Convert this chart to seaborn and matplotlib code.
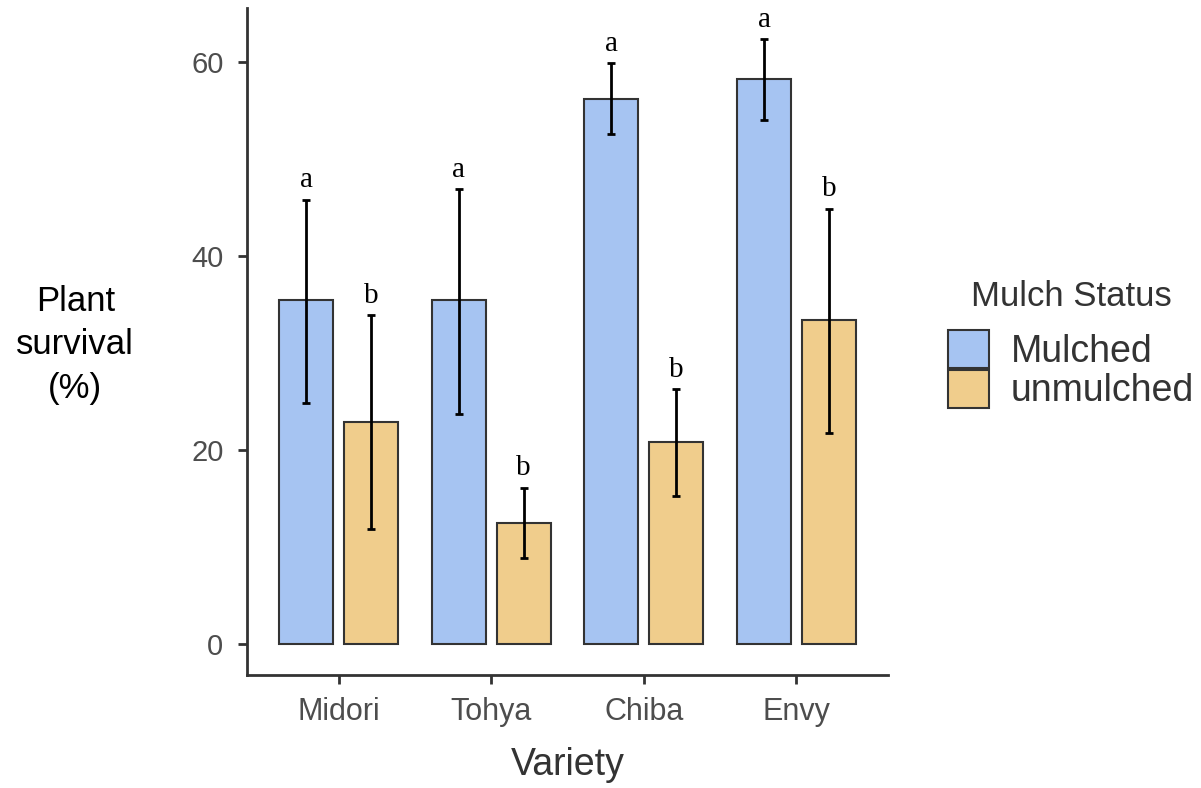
import pandas as pd
import matplotlib.pyplot as plt
import seaborn as sns
import numpy as np

# survival data
varieties = ["Midori", "Tohya", "Chiba", "Envy"]
statuses = ["Mulched", "unmulched"]
mulched_mean = [35.5, 35.5, 56.2, 58.3]
mulched_low = [24.9, 23.7, 52.6, 54.1]
mulched_high = [45.8, 46.9, 59.9, 62.4]
unmulched_mean = [22.9, 12.5, 20.8, 33.4]
unmulched_low = [11.9, 8.9, 15.3, 21.8]
unmulched_high = [33.9, 16.1, 26.3, 44.9]
mulched_letters = ["a", "a", "a", "a"]
unmulched_letters = ["b", "b", "b", "b"]

df = pd.DataFrame({
    "Variety": varieties * 2,
    "Mulch Status": [statuses[0]] * 4 + [statuses[1]] * 4,
    "survival": mulched_mean + unmulched_mean,
    "low": mulched_low + unmulched_low,
    "high": mulched_high + unmulched_high,
    "letter": mulched_letters + unmulched_letters,
})

sns.set_style("white")
plt.rcParams["font.family"] = ["Liberation Sans", "DejaVu Sans"]

fig = plt.figure(figsize=(12.01, 7.88), dpi=100)
ax = fig.add_axes([0.2057, 0.1434, 0.5337, 0.8464])

palette = {"Mulched": "#a6c4f2", "unmulched": "#f0cd8c"}
sns.barplot(data=df, x="Variety", y="survival", hue="Mulch Status",
            order=varieties, hue_order=statuses, palette=palette,
            width=0.85, gap=0.167, errorbar=None, edgecolor="#333333",
            linewidth=1.5, saturation=1, ax=ax)

# error bars + letters, positioned on the drawn bars
for container, status in zip(ax.containers, statuses):
    sub = df[df["Mulch Status"] == status].set_index("Variety").loc[varieties]
    for bar, (_, row) in zip(container, sub.iterrows()):
        xc = bar.get_x() + bar.get_width() / 2
        ax.errorbar(xc, row["survival"],
                    yerr=[[row["survival"] - row["low"]], [row["high"] - row["survival"]]],
                    fmt="none", ecolor="black", elinewidth=2, capsize=3, capthick=2)
        ax.annotate(row["letter"], (xc, row["high"]), xytext=(0, 9),
                    textcoords="offset points", ha="center", va="baseline",
                    fontsize=21, family="Liberation Serif", color="black")

ax.set_xlim(-0.6, 3.6)
ax.set_ylim(-3.2, 65.6)
ax.set_yticks([0, 20, 40, 60])
sns.despine(ax=ax)
for s in ["left", "bottom"]:
    ax.spines[s].set_linewidth(2)
    ax.spines[s].set_color("#333333")
ax.tick_params(axis="both", bottom=True, left=True, length=6.5, width=2,
               color="#333333", labelsize=22, labelcolor="#4d4d4d")
ax.tick_params(axis="y", pad=10.5, labelsize=21)
ax.tick_params(axis="x", pad=9)

ax.set_xlabel("Variety", fontsize=27, color="#333333", labelpad=15)
ax.set_ylabel("Plant\nsurvival\n(%)", fontsize=25, color="black", rotation=0,
              ha="center", va="center", linespacing=1.4)
ax.yaxis.set_label_coords(-0.268, 0.495)

handles, labels = ax.get_legend_handles_labels()
leg = ax.legend(handles, labels, title="Mulch Status", loc="center left",
                bbox_to_anchor=(1.065, 0.495), frameon=False, fontsize=27,
                title_fontsize=25, handlelength=1.07, handleheight=1.18,
                labelspacing=0.0, handletextpad=0.6, borderpad=0)
leg._legend_box.sep = 12
for t in leg.get_texts():
    t.set_color("#333333")
leg.get_title().set_color("#333333")

fig.savefig("out.png", dpi=100)
